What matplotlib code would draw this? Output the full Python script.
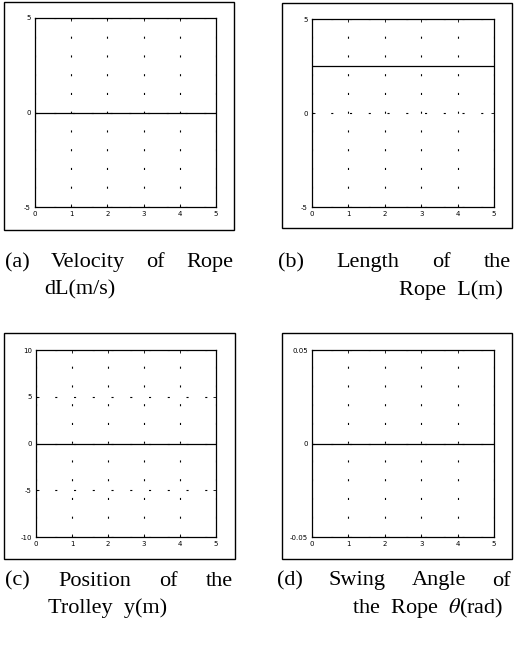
import matplotlib.pyplot as plt
from matplotlib.patches import Rectangle

plt.rcParams['lines.scale_dashes'] = False
plt.rcParams['mathtext.fontset'] = 'stix'
plt.rcParams['axes.unicode_minus'] = False

W, H = 514, 647

# data (time axis and constant responses)
t = [0, 5]
velocity = [0, 0]
length = [2.5, 2.5]
position = [0, 0]
angle = [0, 0]

x_ticks = [0, 1, 2, 3, 4, 5]
y_ticks_a = [-5, 0, 5]
y_ticks_b = [-5, 0, 5]
y_ticks_c = [-10, -5, 0, 5, 10]
y_ticks_d = [-0.05, 0, 0.05]
y_labels_d = ['-0.05', '0', '0.05']

captions = [
    (["(a)", "Velocity", "of", "Rope"], "dL(m/s)"),
    (["(b)", "Length", "of", "the"], "Rope  L(m)"),
    (["(c)", "Position", "of", "the"], "Trolley  y(m)"),
    (["(d)", "Swing", "Angle", "of"], r"the  Rope  $\theta$(rad)"),
]

fig = plt.figure(figsize=(W / 100, H / 100), dpi=100)


def px_box(x0, y0, x1, y1):
    return [x0 / W, 1 - y1 / H, (x1 - x0) / W, (y1 - y0) / H]


panels = [
    # outer frame, inner axes, data, ticks, labels
    ((4, 2, 234, 230), (35, 18, 216, 207), velocity, y_ticks_a, None),
    ((282, 3, 512, 228), (312, 19, 494, 207), length, y_ticks_b, None),
    ((4, 333, 235, 559), (36, 350, 216, 537), position, y_ticks_c, None),
    ((282, 333, 512, 559), (312, 350, 494, 537), angle, y_ticks_d, y_labels_d),
]

for outer, inner, ys, yt, yl in panels:
    x0, y0, x1, y1 = outer
    fig.add_artist(Rectangle((x0 / W, 1 - y1 / H), (x1 - x0) / W, (y1 - y0) / H,
                             transform=fig.transFigure, fill=False,
                             edgecolor='black', linewidth=1.0))
    ax = fig.add_axes(px_box(*inner))
    ax.plot(t, ys, color='black', linewidth=0.9)
    ax.set_xlim(0, 5)
    ax.set_ylim(yt[0], yt[-1])
    ax.set_xticks(x_ticks)
    ax.set_yticks(yt)
    if yl is not None:
        ax.set_yticklabels(yl)
    ax.grid(True, color='black', linewidth=0.8, linestyle=(0, (1.5, 12.0)))
    ax.tick_params(direction='in', length=2, width=0.6, labelsize=5,
                   top=True, right=True, pad=3)
    for s in ax.spines.values():
        s.set_linewidth(0.9)

# captions: justified first line; second line (x, alignment)
cap_pos = [
    (5, 233, 263, 44, 'left', 290),
    (278, 511, 263, 503, 'right', 290),
    (5, 233, 581, 48, 'left', 608),
    (277, 511, 581, 503, 'right', 608),
]
renderer = fig.canvas.get_renderer()
font = dict(family='Liberation Serif', size=16, va='center')
for (words, line2), (xl, xr, yl1, x2, ha2, yl2) in zip(captions, cap_pos):
    texts = [fig.text(0, 1 - yl1 / H, w, ha='left', **font) for w in words]
    widths = [tx.get_window_extent(renderer).width for tx in texts]
    gap = (xr - xl - sum(widths)) / (len(words) - 1)
    x = xl
    for tx, w in zip(texts, widths):
        tx.set_x(x / W)
        x += w + gap
    fig.text(x2 / W, 1 - yl2 / H, line2, ha=ha2, **font)

fig.savefig('out.png', dpi=100)
